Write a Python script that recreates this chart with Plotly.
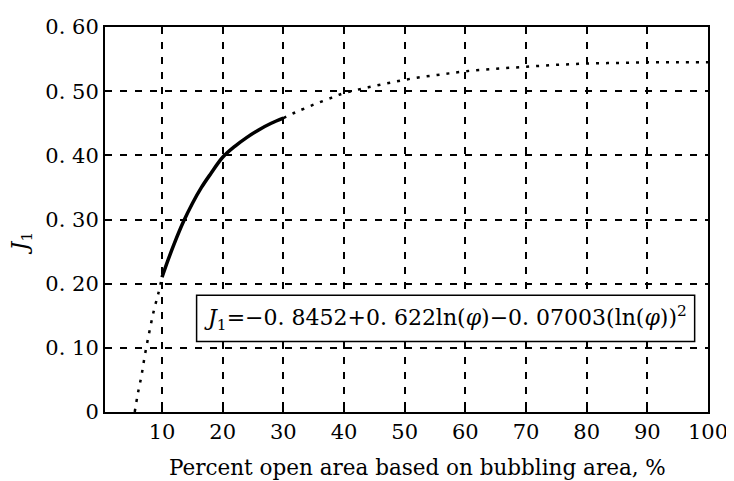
import plotly.graph_objects as go

# Values
solid_x = [10, 11, 12, 13.5, 15, 16.5, 18, 20, 22, 24, 26, 28, 30]
solid_y = [0.210, 0.237, 0.262, 0.296, 0.325, 0.350, 0.371, 0.397, 0.414, 0.428, 0.440, 0.450, 0.458]

dotted_lo_x = [5.5, 6.0, 6.6, 7.2, 8.0, 8.7, 9.4, 10]
dotted_lo_y = [0.0, 0.028, 0.056, 0.090, 0.129, 0.160, 0.185, 0.210]

dotted_hi_x = [30, 32, 35, 38, 40, 44, 48, 52, 56, 60, 65, 70, 75, 80, 85, 90, 95, 100]
dotted_hi_y = [0.458, 0.467, 0.479, 0.490, 0.497, 0.506, 0.514, 0.521, 0.526, 0.531,
               0.535, 0.538, 0.541, 0.543, 0.544, 0.545, 0.545, 0.545]

x_ticks = [10, 20, 30, 40, 50, 60, 70, 80, 90, 100]
x_ticktext = ["10", "20", "30", "40", "50", "60", "70", "80", "90", "100"]
y_ticks = [0, 0.1, 0.2, 0.3, 0.4, 0.5, 0.6]
y_ticktext = ["0", "0. 10", "0. 20", "0. 30", "0. 40", "0. 50", "0. 60"]

equation_text = ("<i>J</i><sub>1</sub>=\u22120. 8452+0. 622ln(<i>\u03c6</i>)"
                 "\u22120. 07003(ln(<i>\u03c6</i>))<sup>2</sup>")
x_title = "Percent open area based on bubbling area, %"
y_title = "<i>J</i><sub>1</sub>"

FONT = "DejaVu Serif"

fig = go.Figure()
fig.add_trace(go.Scatter(x=dotted_lo_x, y=dotted_lo_y, mode="lines",
                         line=dict(color="black", width=2.5, dash="3px,7px", shape="spline")))
fig.add_trace(go.Scatter(x=dotted_hi_x, y=dotted_hi_y, mode="lines",
                         line=dict(color="black", width=2.5, dash="3px,7px", shape="spline")))
fig.add_trace(go.Scatter(x=solid_x, y=solid_y, mode="lines",
                         line=dict(color="black", width=3.5, shape="spline")))

# equation box
fig.add_shape(type="rect", xref="x", yref="y", x0=15.7, x1=97.8, y0=0.11, y1=0.182,
              line=dict(color="black", width=1.5), fillcolor="white", layer="above")
fig.add_annotation(x=(15.7 + 97.8) / 2, y=0.146, xref="x", yref="y", text=equation_text,
                   showarrow=False, font=dict(family=FONT, size=22, color="black"),
                   xanchor="center", yanchor="middle")

# axis titles
fig.add_annotation(x=0.519, y=-0.143, xref="paper", yref="paper", text=x_title,
                   showarrow=False, font=dict(family=FONT, size=21.5, color="black"),
                   xanchor="center", yanchor="middle")
fig.add_annotation(x=-0.138, y=0.44, xref="paper", yref="paper", text=y_title,
                   showarrow=False, textangle=-90,
                   font=dict(family=FONT, size=22, color="black"),
                   xanchor="center", yanchor="middle")

axis_common = dict(showgrid=True, gridcolor="black", gridwidth=1.5, griddash="7px,8px",
                   showline=True, linecolor="black", linewidth=2, mirror=True,
                   ticks="inside", ticklen=4, tickcolor="black", tickwidth=1.5,
                   zeroline=False, automargin=False,
                   tickfont=dict(family=FONT, size=21, color="black"))

# the page body adds an 8px margin, so the figure is 8px smaller and margins shifted
fig.update_layout(
    width=726, height=473,
    margin=dict(l=97, r=26, t=19, b=69),
    paper_bgcolor="white", plot_bgcolor="white",
    showlegend=False,
    xaxis=dict(range=[0.6, 100], tickmode="array", tickvals=x_ticks, ticktext=x_ticktext,
               **axis_common),
    yaxis=dict(range=[0, 0.6], tickmode="array", tickvals=y_ticks, ticktext=y_ticktext,
               **axis_common),
)

fig.write_html("out.html")
